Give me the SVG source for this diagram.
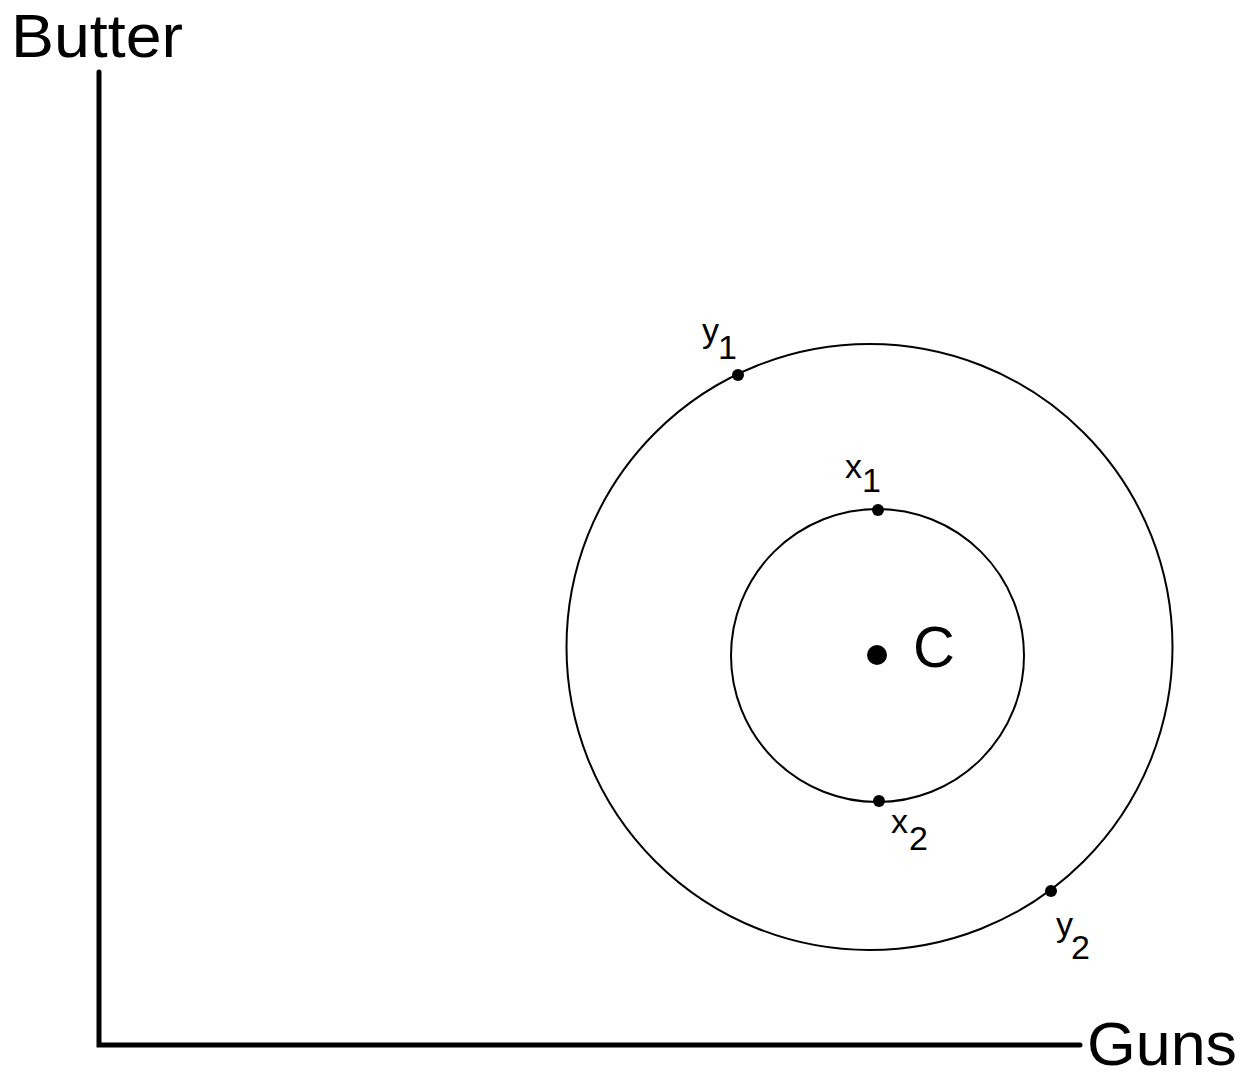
<svg xmlns="http://www.w3.org/2000/svg" width="1250" height="1076" viewBox="0 0 1250 1076">
<style>
text{font-family:"Liberation Sans",Arial,sans-serif;fill:#000}
.big{font-size:62px}
.lbl{font-size:34px}
.sub{font-size:34px}
.curve{fill:none;stroke:#000;stroke-width:2}
.axis{fill:none;stroke:#000;stroke-width:5;stroke-linecap:round}
.dot{fill:#000}
</style>
<rect width="1250" height="1076" fill="#fff"/>
<g id="connectors">
<path class="axis" d="M99,72 V1045 H1080"/>
</g>
<g id="axis-labels">
<text class="big" x="11" y="57" textLength="172" lengthAdjust="spacingAndGlyphs">Butter</text>
<text class="big" x="1087" y="1065" textLength="150" lengthAdjust="spacingAndGlyphs">Guns</text>
</g>
<g id="outer-circle">
<circle class="curve" cx="869.5" cy="647" r="303"/>
</g>
<g id="inner-circle">
<circle class="curve" cx="877.5" cy="655.5" r="146.5"/>
</g>
<g id="C">
<circle class="dot" cx="877" cy="655" r="10"/>
<text x="913" y="667" font-size="58">C</text>
</g>
<g id="y1">
<circle class="dot" cx="738" cy="375" r="6"/>
<text class="lbl" x="702" y="342">y</text>
<text class="sub" x="718" y="359">1</text>
</g>
<g id="x1">
<circle class="dot" cx="878" cy="510" r="6"/>
<text class="lbl" x="845" y="478">x</text>
<text class="sub" x="862" y="492">1</text>
</g>
<g id="x2">
<circle class="dot" cx="879" cy="801" r="6"/>
<text class="lbl" x="891" y="833">x</text>
<text class="sub" x="909" y="850">2</text>
</g>
<g id="y2">
<circle class="dot" cx="1051" cy="891" r="6"/>
<text class="lbl" x="1056" y="936">y</text>
<text class="sub" x="1071" y="959">2</text>
</g>
</svg>
